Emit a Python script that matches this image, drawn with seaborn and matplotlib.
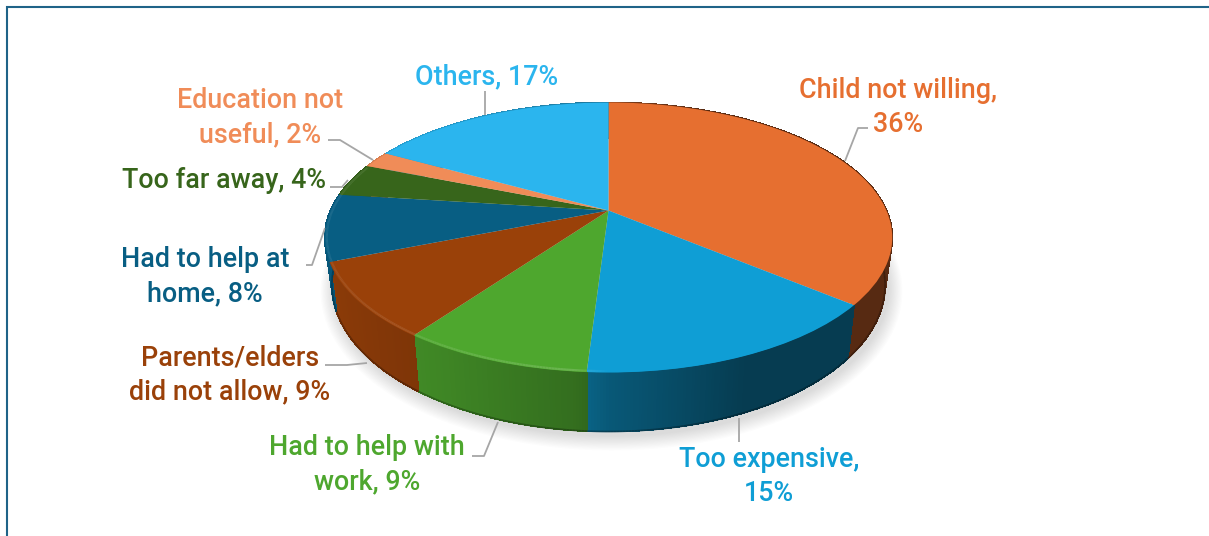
import numpy as np
import matplotlib
matplotlib.use("Agg")
import matplotlib.pyplot as plt
from matplotlib.collections import PolyCollection, LineCollection
from matplotlib.transforms import Transform
import seaborn as sns

# Reasons for dropping out, percentage of respondents
reasons = ["Child not willing", "Too expensive", "Had to help with work",
           "Parents/elders did not allow", "Had to help at home",
           "Too far away", "Education not useful", "Others"]
shares = [36, 15, 9, 9, 8, 4, 2, 17]
label_texts = ["Child not willing,\n36%", "Too expensive,\n15%",
               "Had to help with\nwork, 9%", "Parents/elders\ndid not allow, 9%",
               "Had to help at\nhome, 8%", "Too far away, 4%",
               "Education not\nuseful, 2%", "Others, 17%"]
slice_colors = ["#E66F30", "#0F9ED5", "#4EA72E", "#9A4109",
                "#085E83", "#37651B", "#F08C58", "#2BB5EE"]

sns.set_theme(style="white")
plt.rcParams["font.family"] = ["Roboto", "DejaVu Sans"]
palette = sns.color_palette(slice_colors)

W, H = 1209, 536
CX, CY = 608.5, 210.5
BORDER = "#1F6388"
LEADER = "#A6A6A6"


class Tilt(Transform):
    """Perspective view of the unit disc, giving canvas coordinates."""
    input_dims = output_dims = 2
    is_separable = False

    def __init__(self, rx, ry, k, dy=0.0):
        super().__init__()
        self.rx, self.ry, self.k, self.dy = rx, ry, k, dy

    def transform_non_affine(self, values):
        values = np.asarray(values, dtype=float)
        w = 1 + self.k * values[:, 1]
        return np.column_stack([CX + self.rx * values[:, 0] / w,
                                CY + self.dy - self.ry * values[:, 1] / w])


top_face = Tilt(278, 129.6, 0.2)
bottom_face = Tilt(271, 140.8, 0.2, dy=45)

fig = plt.figure(figsize=(W / 100, H / 100), dpi=100, facecolor="white")
ax = fig.add_axes([0, 0, 1, 1])

wedges, _ = ax.pie(shares, colors=palette, startangle=90, counterclock=False,
                   wedgeprops={"linewidth": 0})
for wedge in wedges:
    wedge.set_transform(top_face + ax.transData)
    wedge.set_zorder(3)

ax.set_aspect("auto")
ax.set_xlim(0, W)
ax.set_ylim(H, 0)
ax.axis("off")

def unit_ring(theta, radius=1.0):
    return np.column_stack([radius * np.sin(theta), radius * np.cos(theta)])

# soft drop shadow beneath the disc
full = np.linspace(0, 2 * np.pi, 361)
ring = bottom_face.transform(unit_ring(full))
for grow in np.linspace(14, 1, 12):
    scale_x = 1 + grow / 271
    scale_y = 1 + grow / 165
    pts = np.column_stack([CX + 3 + (ring[:, 0] - CX) * scale_x,
                           CY + 49 + (ring[:, 1] - CY - 45) * scale_y])
    ax.fill(pts[:, 0], pts[:, 1], color="#808080", alpha=0.022, lw=0, zorder=0.5)

# side wall: thin vertical strips shaded by their horizontal position
edges = 2 * np.pi * np.concatenate([[0], np.cumsum(shares)]) / np.sum(shares)
for start, end, color in zip(edges[:-1], edges[1:], palette):
    theta = np.arange(start, end + 1e-6, np.radians(0.5))
    theta = np.append(theta, end)
    upper = top_face.transform(unit_ring(theta))
    lower = bottom_face.transform(unit_ring(theta))
    quads = np.stack([upper[:-1], upper[1:], lower[1:], lower[:-1]], axis=1)
    mid = 0.5 * (theta[:-1] + theta[1:])
    shade = np.interp(np.sin(mid), [-1, -0.5, -0.1, 0.0, 0.4, 1],
                      [0.92, 0.80, 0.66, 0.56, 0.38, 0.38])
    shades = np.outer(shade, np.array(color))
    ax.add_collection(PolyCollection(quads, facecolors=shades, edgecolors=shades,
                                     linewidths=0.6, antialiaseds=False, zorder=1),
                      autolim=False)
    ax.add_collection(LineCollection(np.stack([lower[:-1], lower[1:]], axis=1),
                                     colors=shades * 0.7, linewidths=1.2,
                                     zorder=1.5), autolim=False)

    # bevel highlight along the front of the top face
    rim = top_face.transform(unit_ring(theta, 0.993))
    front = np.cos(mid) < 0.35
    gain = np.interp(np.sin(mid), [-1, -0.6, -0.1, 0.0, 0.5], [0.08, 0.10, 0.16, 0.0, 0.0])
    rim_colors = np.array(color) + (1 - np.array(color)) * gain[:, None]
    segs = np.stack([rim[:-1], rim[1:]], axis=1)[front]
    if len(segs):
        ax.add_collection(LineCollection(segs, colors=rim_colors[front], linewidths=1.6,
                                         zorder=4), autolim=False)

# leader lines from labels to slices
leaders = [
    [(868, 128), (858, 128), (845, 161)],
    [(739, 418), (739, 442)],
    [(472, 456), (484, 456), (498, 422)],
    [(325, 365), (347, 365), (367, 363)],
    [(306, 265), (312, 265), (325, 228)],
    [(330, 187), (342, 187), (348, 180)],
    [(328, 140), (340, 140), (373, 160)],
    [(485, 91), (485, 115)],
]
for path in leaders:
    xs, ys = zip(*path)
    ax.plot(xs, ys, color=LEADER, lw=1.3, zorder=2, solid_capstyle="butt")

# category labels
label_anchor = [(898, 107.5), (769, 476.5), (367, 465), (230, 375),
                (205, 277), (224, 180), (260, 118), (487, 77)]
for text, (x, y), color in zip(label_texts, label_anchor, palette):
    ax.text(x, y, text, color=color, ha="center", va="center", fontsize=19.4,
            fontweight=500, linespacing=1.36, zorder=5)

# frame along the top and left of the canvas
ax.plot([7, 7, W], [H, 7, 7], color=BORDER, lw=1.5, zorder=6, solid_joinstyle="miter")

fig.savefig("out.png", dpi=100)
